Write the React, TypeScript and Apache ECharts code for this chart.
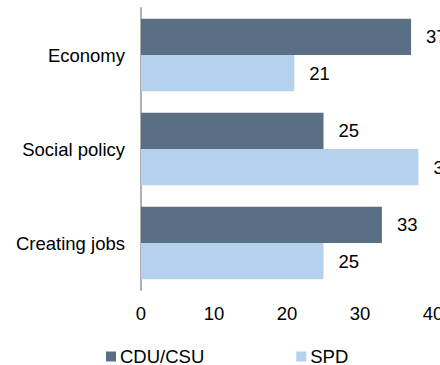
import React, { useEffect, useRef } from "react";
import * as echarts from "echarts";

const categories = ["Economy", "Social policy", "Creating jobs"];
const cduValues = [37, 25, 33];
const spdValues = [21, 38, 25];
const xTicks = [0, 10, 20, 30, 40];
const seriesNames = ["CDU/CSU", "SPD"];

export default function App() {
  const ref = useRef<HTMLDivElement>(null);
  useEffect(() => {
    if (!ref.current) return;
    const chart = echarts.init(ref.current, undefined, { renderer: "svg" });
    const font = "Liberation Sans, Arial, sans-serif";
    const fs = 18.5;
    const label = {
      show: true,
      position: "right",
      distance: 15,
      color: "#000",
      fontSize: fs,
      fontFamily: font,
    };
    chart.setOption({
      animation: false,
      grid: { left: 141, right: 7, top: 8, bottom: 75, outerBoundsMode: "none", containLabel: false },
      legend: {
        left: 106,
        top: 347,
        padding: 0,
        itemWidth: 10,
        itemHeight: 10,
        itemGap: 92,
        icon: "rect",
        textStyle: { fontSize: fs, lineHeight: 18, fontFamily: font, color: "#000", padding: [0, 0, 0, -1] },
        data: seriesNames,
      },
      xAxis: {
        type: "value",
        min: xTicks[0],
        max: xTicks[xTicks.length - 1],
        interval: 10,
        axisLine: { show: false },
        axisTick: { show: false },
        splitLine: { show: false },
        axisLabel: { fontSize: fs, fontFamily: font, color: "#000", margin: 14 },
      },
      yAxis: {
        type: "category",
        inverse: true,
        data: categories,
        axisLine: { show: true, lineStyle: { color: "#b0b0b0", width: 2 } },
        axisTick: { show: false },
        axisLabel: { fontSize: fs, fontFamily: font, color: "#000", margin: 16 },
      },
      series: [
        {
          name: seriesNames[0],
          type: "bar",
          data: cduValues,
          barGap: "0%",
          barCategoryGap: "23%",
          itemStyle: { color: "#5b6f84" },
          label,
        },
        {
          name: seriesNames[1],
          type: "bar",
          data: spdValues,
          barGap: "0%",
          barCategoryGap: "23%",
          itemStyle: { color: "#b4d1ee" },
          label,
        },
      ],
    });
    return () => chart.dispose();
  }, []);
  return <div ref={ref} style={{ width: 440, height: 365, position: "absolute", left: 0, top: 0 }} />;
}
